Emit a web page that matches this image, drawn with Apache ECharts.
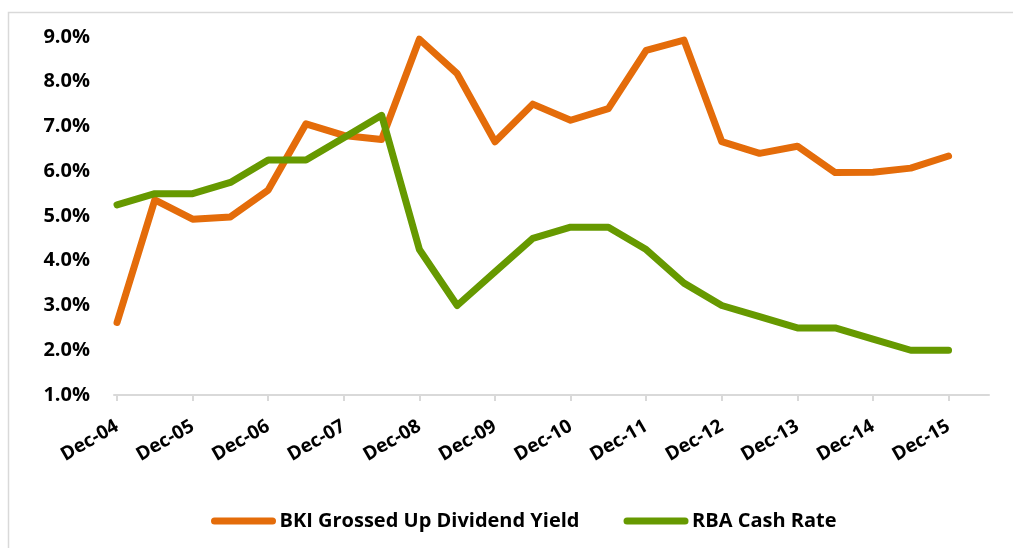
<!DOCTYPE html>
<html>
<head>
<meta charset="utf-8">
<script src="https://cdn.jsdelivr.net/npm/echarts@6/dist/echarts.min.js"></script>
<style>
  html, body { margin: 0; padding: 0; background: #fff; }
  #chart { width: 1013px; height: 548px; }
</style>
</head>
<body>
<div id="chart"></div>
<script>
// half-yearly observations, Dec-04 .. Dec-15
const periods = ['Dec-04', 'Jun-05', 'Dec-05', 'Jun-06', 'Dec-06', 'Jun-07', 'Dec-07', 'Jun-08',
  'Dec-08', 'Jun-09', 'Dec-09', 'Jun-10', 'Dec-10', 'Jun-11', 'Dec-11', 'Jun-12',
  'Dec-12', 'Jun-13', 'Dec-13', 'Jun-14', 'Dec-14', 'Jun-15', 'Dec-15']
const bkiYield = [2.62, 5.36, 4.93, 4.98, 5.58, 7.06, 6.8, 6.71, 8.95, 8.18, 6.66, 7.5,
  7.14, 7.4, 8.7, 8.93, 6.66, 6.4, 6.56, 5.97, 5.98, 6.07, 6.34]
const rbaCash = [5.25, 5.5, 5.5, 5.75, 6.25, 6.25, 6.75, 7.25, 4.25, 3.0, 3.75, 4.5,
  4.75, 4.75, 4.25, 3.5, 3.0, 2.75, 2.5, 2.5, 2.25, 2.0, 2.0]
// only every December gets a tick + label
const tickIdx = periods.map((p, i) => i).filter(i => i % 2 === 0)

const font = "'Open Sans', sans-serif"
const chart = echarts.init(document.getElementById('chart'))

chart.setOption({
  animation: false,
  graphic: [{
    type: 'rect',
    shape: { x: 8.5, y: 12.5, width: 1100, height: 600 },
    style: { fill: 'none', stroke: '#d9d9d9', lineWidth: 1.5 },
    z: -1
  }],
  grid: { left: 114, right: 24, top: 37, bottom: 153 },
  xAxis: {
    type: 'value',
    min: -0.08,
    max: 23.07,
    splitLine: { show: false },
    axisLine: { lineStyle: { color: '#d9d9d9', width: 2 } },
    axisTick: { customValues: tickIdx, length: 6, lineStyle: { color: '#d9d9d9', width: 2 } },
    axisLabel: {
      customValues: tickIdx,
      formatter: v => periods[Math.round(v)],
      rotate: 30,
      margin: 30,
      color: '#000',
      fontFamily: font,
      fontWeight: 'bold',
      fontSize: 19
    }
  },
  yAxis: {
    type: 'value',
    min: 1,
    max: 9,
    interval: 1,
    splitLine: { show: false },
    axisLine: { show: false },
    axisTick: { show: false },
    axisLabel: {
      formatter: v => v.toFixed(1) + '%',
      margin: 24,
      color: '#000',
      fontFamily: font,
      fontWeight: 'bold',
      fontSize: 20
    }
  },
  legend: {
    left: 206,
    top: 506,
    itemWidth: 58,
    itemHeight: 7,
    itemGap: 44,
    lineStyle: { width: 7, cap: 'round' },
    textStyle: { color: '#000', fontFamily: font, fontWeight: 'bold', fontSize: 20, padding: [0, 0, 0, 2] }
  },
  series: [
    {
      name: 'BKI Grossed Up Dividend Yield',
      type: 'line',
      data: bkiYield.map((v, i) => [i, v]),
      symbol: 'none',
      itemStyle: { color: '#e46c0a' },
      lineStyle: { color: '#e46c0a', width: 7, cap: 'round', join: 'round' },
      z: 3
    },
    {
      name: 'RBA Cash Rate',
      type: 'line',
      data: rbaCash.map((v, i) => [i, v]),
      symbol: 'none',
      itemStyle: { color: '#669900' },
      lineStyle: { color: '#669900', width: 7, cap: 'round', join: 'round' },
      z: 4
    }
  ]
})
</script>
</body>
</html>
